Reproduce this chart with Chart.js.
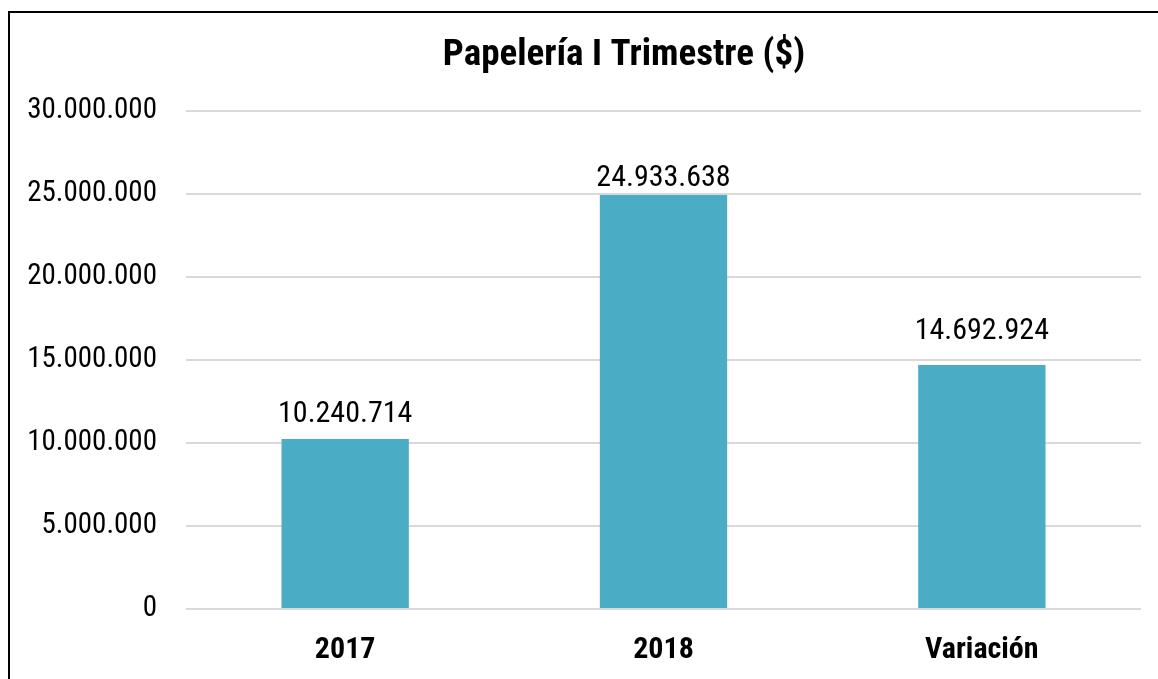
<!DOCTYPE html>
<html>
<head>
<meta charset="utf-8">
<script src="https://cdn.jsdelivr.net/npm/chart.js@4"></script>
<style>
  body { margin: 0; background: #fff; }
  #wrap { position: absolute; left: 0; top: 0; width: 1158px; height: 679px; }
  #frame { position: absolute; left: 8px; top: 11px; width: 2000px; height: 2000px; border: 2px solid #000; box-sizing: border-box; }
  canvas { position: absolute; left: 0; top: 0; }
</style>
</head>
<body>
<div id="wrap">
  <div id="frame"></div>
  <canvas id="chart" width="1158" height="679"></canvas>
</div>
<script>
const categories = ['2017', '2018', 'Variación'];
const values = [10240714, 24933638, 14692924];
const yTicks = [0, 5000000, 10000000, 15000000, 20000000, 25000000, 30000000];
const chartTitle = 'Papelería I Trimestre ($)';
// gap (px) between bar top and its value label, as placed in the original
const labelGap = [17, 9, 26];

const FONT = "'Roboto Condensed', 'Arial Narrow', sans-serif";

// thousands separator with dots
function fmt(v) {
    return String(Math.round(v)).replace(/\B(?=(\d{3})+(?!\d))/g, '.');
}

// Value labels above bars + the title
const barLabels = {
    id: 'barLabels',
    afterDatasetsDraw(chart) {
        const ctx = chart.ctx;
        const meta = chart.getDatasetMeta(0);
        ctx.save();
        ctx.font = '30px ' + FONT;
        ctx.fillStyle = '#000';
        ctx.textAlign = 'center';
        ctx.textBaseline = 'alphabetic';
        meta.data.forEach((bar, i) => {
            ctx.fillText(fmt(values[i]), bar.x, bar.y - labelGap[i]);
        });
        ctx.font = 'bold 37px ' + FONT;
        ctx.fillText(chartTitle, 624, 65);
        ctx.restore();
    }
};

new Chart(document.getElementById('chart'), {
    type: 'bar',
    data: {
        labels: categories,
        datasets: [{
            data: values,
            backgroundColor: '#4BACC6',
            categoryPercentage: 1,
            barPercentage: 0.4
        }]
    },
    options: {
        responsive: false,
        animation: false,
        layout: { padding: { left: 0, right: 17, top: 111, bottom: 0 } },
        plugins: {
            legend: { display: false },
            tooltip: { enabled: false },
            title: { display: false }
        },
        scales: {
            x: {
                afterFit(scale) { scale.height = 70; },
                grid: { display: false, drawTicks: false },
                border: { display: false },
                ticks: {
                    color: '#000',
                    padding: 23,
                    font: { family: FONT, size: 30, weight: 'bold' }
                }
            },
            y: {
                min: 0,
                max: 30000000,
                afterFit(scale) { scale.width = 186; },
                afterBuildTicks(scale) { scale.ticks = yTicks.map(v => ({ value: v })); },
                grid: { color: '#d9d9d9', lineWidth: 2, drawTicks: false },
                border: { display: false },
                ticks: {
                    color: '#000',
                    padding: 29,
                    font: { family: FONT, size: 29 },
                    callback: v => fmt(v)
                }
            }
        }
    },
    plugins: [barLabels]
});
</script>
</body>
</html>
